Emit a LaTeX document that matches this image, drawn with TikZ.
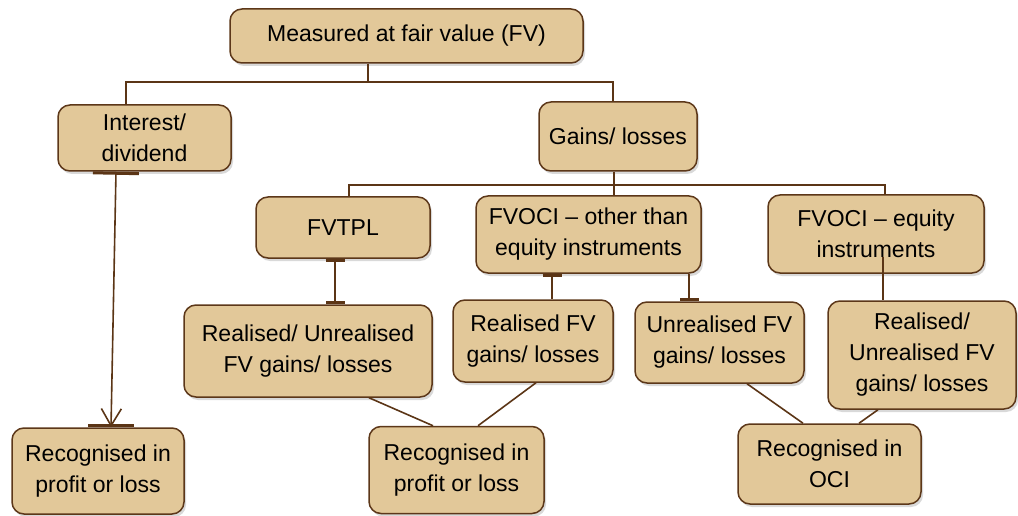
\documentclass[tikz,border=0pt]{standalone}
\usepackage{fontspec}
\setmainfont{Liberation Sans}
\usetikzlibrary{arrows.meta,shadows}
\definecolor{boxfill}{HTML}{E2C899}
\definecolor{boxline}{HTML}{5C3719}
\definecolor{linkline}{HTML}{5B3516}
\tikzset{
  nub/.tip={Bar[width=19pt,line width=3pt]},
  widenub/.tip={Bar[width=46pt,line width=3pt]},
}
\begin{document}
\begin{tikzpicture}[x=1pt,y=-1pt,
  box/.style={draw=boxline,line width=1.5pt,fill=boxfill,rounded corners=12pt,
    align=center,inner sep=0pt,font=\fontsize{23}{31}\selectfont,
    drop shadow={shadow xshift=2pt,shadow yshift=-3pt,opacity=0.25,fill=black!60}},
  link/.style={draw=linkline,line width=1.6pt}]
\useasboundingbox (0,0) rectangle (1018,516) ;
\node [box,minimum width=353pt,minimum height=54pt] (fv) at (406.5,36) {Measured at fair value (FV)} ;
\node [box,minimum width=173pt,minimum height=66pt] (interest) at (144.5,138) {Interest/\\dividend} ;
\node [box,minimum width=158pt,minimum height=69pt] (gains) at (618,136.5) {Gains/ losses} ;
\node [box,minimum width=174pt,minimum height=61pt] (fvtpl) at (343,227.5) {FVTPL} ;
\node [box,minimum width=225pt,minimum height=77pt] (fvocidebt) at (588.5,234.5) {FVOCI – other than\\equity instruments} ;
\node [box,minimum width=216pt,minimum height=78pt] (fvociequity) at (876,234) {FVOCI – equity\\instruments} ;
\node [box,minimum width=248pt,minimum height=92pt] (plboth) at (308,351) {Realised/ Unrealised\\FV gains/ losses} ;
\node [box,minimum width=160pt,minimum height=82pt] (ocireal) at (533,341) {Realised FV\\gains/ losses} ;
\node [box,minimum width=169pt,minimum height=81pt] (ociunreal) at (719.5,342.5) {Unrealised FV\\gains/ losses} ;
\node [box,minimum width=188pt,minimum height=108pt] (eqboth) at (922,355) {Realised/\\Unrealised FV\\gains/ losses} ;
\node [box,minimum width=172pt,minimum height=86pt] (plleft) at (98,471) {Recognised in\\profit or loss} ;
\node [box,minimum width=175pt,minimum height=87pt] (plmid) at (456.5,470) {Recognised in\\profit or loss} ;
\node [box,minimum width=183pt,minimum height=80pt] (oci) at (829.5,464) {Recognised in\\OCI} ;
\coordinate (j1) at (368,82) ;
\coordinate (j2) at (614,185) ;
\draw [link] ([xshift=-38.5pt]fv.south) -- (j1) ;
\draw [link] ([xshift=-18.5pt]interest.north) |- (j1) -| ([xshift=-5pt]gains.north) ;
\draw [link] ([xshift=-4pt]gains.south) -- (j2 |- fvocidebt.north) ;
\draw [link] ([xshift=6pt]fvtpl.north) |- (j2) -| ([xshift=9pt]fvociequity.north) ;
\draw [link,nub-nub] ([xshift=-8pt]fvtpl.south) -- ([xshift=-8pt]fvtpl.south |- plboth.north) ;
\draw [link,nub-] ([xshift=-36.5pt]fvocidebt.south) -- ([xshift=-36.5pt]fvocidebt.south |- ocireal.north) ;
\draw [link,-nub] ([xshift=100.5pt]fvocidebt.south) -- ([xshift=100.5pt]fvocidebt.south |- ociunreal.north) ;
\draw [link] ([xshift=7pt,yshift=17pt]fvociequity.south) -- ([xshift=7pt]fvociequity.south |- eqboth.north) ;
\draw [link,widenub-{Straight Barb[length=17pt,width=20pt]}] ([xshift=-28.5pt]interest.south) -- ([xshift=13pt]plleft.north) ;
\draw [link,-widenub] ([xshift=13pt,yshift=3pt]plleft.north) -- ([xshift=13pt]plleft.north) ;
\draw [link] ([xshift=61pt]plboth.south) -- ([xshift=-23.5pt]plmid.north) ;
\draw [link] ([xshift=3pt]ocireal.south) -- ([xshift=21.5pt]plmid.north) ;
\draw [link] ([xshift=27.5pt]ociunreal.south) -- ([xshift=-26.5pt]oci.north) ;
\draw [link] ([xshift=-44pt]eqboth.south) -- ([xshift=29.5pt]oci.north) ;
\end{tikzpicture}
\end{document}
